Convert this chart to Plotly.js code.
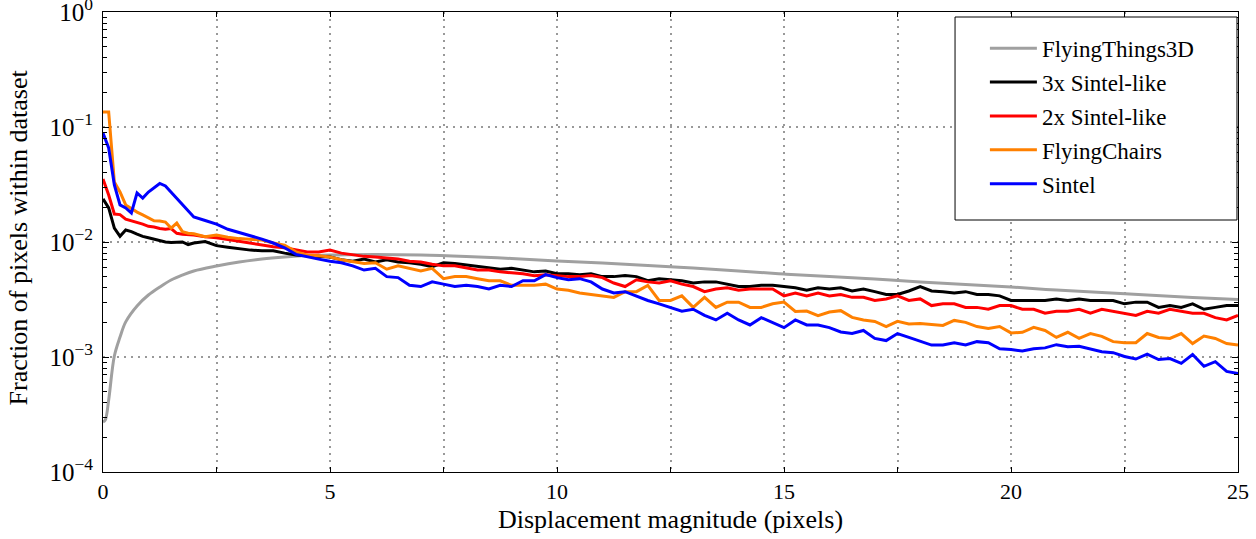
<!DOCTYPE html>
<html>
<head>
<meta charset="utf-8">
<script src="https://cdn.plot.ly/plotly-3.0.1.min.js"></script>
<style>html,body{margin:0;padding:0;background:#fff;}#chart{width:1256px;height:539px;}</style>
</head>
<body>
<div id="chart"></div>
<script>
// ---- data ----
const seriesNames = ['FlyingThings3D', '3x Sintel-like', '2x Sintel-like', 'FlyingChairs', 'Sintel'];

const xThings = [0,0.05,0.125,0.25,0.375,0.5,0.75,1,1.25,1.5,1.75,2,2.5,3,3.5,4,4.5,5,6,7,8,9,10,11,12,13,14,15,16,17,18,19,20,21,22,23,24,25];
const yThings = [0.000272,0.000283,0.000423,0.00102,0.00149,0.00202,0.00278,0.00346,0.00406,0.00467,0.00516,0.00560,0.00618,0.00670,0.00711,0.00741,0.00763,0.00770,0.00778,0.00770,0.00748,0.00719,0.00684,0.00657,0.00625,0.00594,0.00560,0.00527,0.00501,0.00477,0.00449,0.00427,0.00406,0.00382,0.00364,0.00346,0.00329,0.00316];

const xDisp = [0,0.125,0.25,0.375,0.5,0.625,0.75,0.875,1,1.125,1.25,1.375,1.5,1.625,1.75,1.875,2,
  2.25,2.5,2.75,3,3.25,3.5,3.75,4,4.25,4.5,4.75,5,5.25,5.5,5.75,6,6.25,6.5,6.75,7,7.25,7.5,7.75,8,
  8.25,8.5,8.75,9,9.25,9.5,9.75,10,10.25,10.5,10.75,11,11.25,11.5,11.75,12,12.25,12.5,12.75,13,
  13.25,13.5,13.75,14,14.25,14.5,14.75,15,15.25,15.5,15.75,16,16.25,16.5,16.75,17,17.25,17.5,17.75,18,
  18.25,18.5,18.75,19,19.25,19.5,19.75,20,20.25,20.5,20.75,21,21.25,21.5,21.75,22,22.25,22.5,22.75,23,
  23.25,23.5,23.75,24,24.25,24.5,24.75,25];

const ySintel3x = [0.0237,0.0198,0.0132,0.0112,0.0127,0.0123,0.0117,0.0112,0.0109,0.0106,0.0102,0.0100,0.0099,0.0100,0.0100,0.0095,0.0098,
  0.0101,0.0093,0.0090,0.0087,0.0085,0.0084,0.0084,0.0080,0.0077,0.0076,0.0075,0.0074,0.0070,0.0068,0.0071,0.0067,0.0070,0.0067,0.0066,0.0064,0.0061,0.0066,0.0065,0.0063,
  0.0061,0.0059,0.0058,0.0059,0.0057,0.0055,0.0056,0.0053,0.0053,0.0052,0.0053,0.0050,0.0050,0.0051,0.0050,0.0046,0.0048,0.0047,0.0046,0.0044,
  0.0045,0.0045,0.0043,0.0041,0.0041,0.0042,0.0042,0.0041,0.0040,0.0038,0.0040,0.0039,0.0040,0.00375,0.0039,0.0037,0.0035,0.0035,0.00375,0.0041,
  0.00375,0.0037,0.0036,0.0037,0.0035,0.0035,0.0034,0.0031,0.0031,0.0031,0.0031,0.0032,0.0031,0.0032,0.0031,0.0031,0.0031,0.0029,0.0030,0.0030,
  0.0027,0.0028,0.0027,0.0029,0.0026,0.0027,0.0028,0.0028];

const ySintel2x = [0.0353,0.0256,0.0175,0.0173,0.0158,0.0153,0.0149,0.0143,0.0137,0.0135,0.0131,0.0129,0.0131,0.0119,0.0117,0.0116,0.0115,
  0.0111,0.0109,0.0105,0.0101,0.0098,0.0094,0.0091,0.0089,0.0086,0.0082,0.0082,0.0085,0.0080,0.0077,0.0075,0.0074,0.0073,0.0071,0.0068,0.0067,0.0064,0.0062,0.0062,0.0059,
  0.0057,0.0057,0.0055,0.0054,0.0053,0.0051,0.0052,0.0051,0.0050,0.0050,0.0051,0.0049,0.0044,0.0041,0.0047,0.0045,0.0044,0.0046,0.0043,0.0041,
  0.0037,0.0039,0.0040,0.0038,0.0039,0.0039,0.0039,0.0034,0.0036,0.0034,0.0036,0.0034,0.0035,0.0033,0.0033,0.0031,0.0032,0.0034,0.0031,0.0032,
  0.0028,0.0029,0.0029,0.0027,0.0027,0.0026,0.0028,0.0028,0.0026,0.0026,0.0024,0.0025,0.0025,0.0026,0.0024,0.0026,0.0025,0.0024,0.0023,0.0025,
  0.0024,0.0026,0.0025,0.0024,0.0024,0.0022,0.0021,0.0023];

const yChairs = [0.135,0.135,0.0332,0.0272,0.0210,0.0194,0.0182,0.0172,0.0162,0.0153,0.0152,0.0149,0.0132,0.0146,0.0123,0.0119,0.0118,
  0.0111,0.0115,0.0110,0.0107,0.0106,0.0104,0.0098,0.0094,0.0082,0.0077,0.0076,0.0074,0.0070,0.0067,0.0065,0.0066,0.0058,0.0062,0.0059,0.0056,0.0059,0.0048,0.0050,0.0050,
  0.0048,0.0046,0.0046,0.0042,0.0042,0.0042,0.0043,0.0039,0.0038,0.0036,0.0035,0.0034,0.0033,0.0037,0.0037,0.0042,0.0031,0.0031,0.0034,0.0027,
  0.0033,0.0027,0.0030,0.0030,0.0027,0.0027,0.0029,0.0030,0.00249,0.00251,0.00229,0.00246,0.00253,0.00221,0.00210,0.00204,0.00184,0.00204,0.00194,0.00196,
  0.00192,0.00188,0.00208,0.00200,0.00184,0.00177,0.00184,0.00162,0.00164,0.00181,0.00170,0.00148,0.00164,0.00145,0.00160,0.00151,0.00136,0.00133,0.00133,0.00160,
  0.00148,0.00145,0.00160,0.00131,0.00152,0.00145,0.00131,0.00127];

const ySintel = [0.0887,0.0657,0.0313,0.0210,0.0198,0.0179,0.0267,0.0241,0.0272,0.0295,0.0323,0.0307,0.0272,0.0237,0.0210,0.0186,0.0165,
  0.0154,0.0143,0.0129,0.0121,0.0114,0.0106,0.0098,0.0089,0.0078,0.0074,0.0071,0.0068,0.0066,0.0062,0.0057,0.0059,0.0050,0.0049,0.0042,0.0041,0.0045,0.0043,0.0041,0.0042,
  0.0041,0.0039,0.0042,0.0041,0.0046,0.0046,0.0052,0.0049,0.0047,0.0048,0.0045,0.0039,0.0036,0.0037,0.0034,0.0031,0.0029,0.0027,0.0025,0.0026,
  0.0023,0.0021,0.0024,0.0021,0.0019,0.0022,0.0020,0.0018,0.0021,0.0019,0.0019,0.0018,0.00165,0.0016,0.0017,0.00145,0.00139,0.00160,0.00148,0.00136,
  0.00127,0.00127,0.00133,0.00127,0.00136,0.00133,0.00118,0.00116,0.00113,0.00118,0.00120,0.00128,0.00123,0.00124,0.00118,0.00111,0.00109,0.00101,0.00096,0.00106,
  0.00095,0.00097,0.00088,0.00105,0.00083,0.00091,0.00075,0.00072];

const seriesColors = ['rgb(160,160,160)', '#000000', '#ff0000', '#ff8000', '#0000ff'];

const xTickVals = [0,2.5,5,7.5,10,12.5,15,17.5,20,22.5,25];
const xTickText = ['0',' ','5',' ','10',' ','15',' ','20',' ','25'];
const yTickVals = [0.0001,0.001,0.01,0.1,1];
const yTickText = ['10<sup>\u22124</sup>','10<sup>\u22123</sup>','10<sup>\u22122</sup>','10<sup>\u22121</sup>','10<sup>0</sup>'];
const yMinorVals = [0.0002,0.0003,0.0004,0.0005,0.0006,0.0007,0.0008,0.0009,
  0.002,0.003,0.004,0.005,0.006,0.007,0.008,0.009,
  0.02,0.03,0.04,0.05,0.06,0.07,0.08,0.09,
  0.2,0.3,0.4,0.5,0.6,0.7,0.8,0.9];
const yTitle = 'Fraction of pixels within dataset';
const xTitle = 'Displacement magnitude (pixels)';

// ---- traces ----
const xs = [xThings, xDisp, xDisp, xDisp, xDisp];
const ys = [yThings, ySintel3x, ySintel2x, yChairs, ySintel];
const traces = seriesNames.map((name, i) => ({
  type: 'scatter', mode: 'lines', name: name,
  x: xs[i], y: ys[i],
  legendgroup: 'g' + i,
  line: {color: seriesColors[i], width: 3, shape: i === 0 ? 'spline' : 'linear'},
  hoverinfo: 'skip'
}));

const FONT = '"Liberation Serif", "Times New Roman", serif';

const layout = {
  width: 1256, height: 539,
  margin: {l: 103, r: 18, t: 12, b: 67},
  paper_bgcolor: '#ffffff', plot_bgcolor: '#ffffff',
  font: {family: FONT, size: 22, color: '#000'},
  showlegend: true,
  legend: {
    x: 0.777, y: 0.968, xanchor: 'left', yanchor: 'top',
    bgcolor: 'rgba(0,0,0,0)', borderwidth: 0,
    font: {family: FONT, size: 23, color: '#000'},
    traceorder: 'grouped', tracegroupgap: 1, itemwidth: 47
  },
  xaxis: {
    range: [0, 25], tickmode: 'array', tickvals: xTickVals, ticktext: xTickText,
    ticks: 'inside', ticklen: 5, tickcolor: '#000', tickwidth: 1,
    showline: true, linecolor: '#000', linewidth: 1, mirror: 'allticks',
    showgrid: true, gridcolor: '#999', gridwidth: 2, griddash: '2px,5px',
    zeroline: false,
    tickfont: {family: FONT, size: 22},
    title: {text: xTitle, font: {family: FONT, size: 26}, standoff: 6}
  },
  yaxis: {
    type: 'log', range: [-4, 0], tickmode: 'array', tickvals: yTickVals, ticktext: yTickText,
    ticks: 'inside', ticklen: 6, tickcolor: '#000', tickwidth: 1,
    showline: true, linecolor: '#000', linewidth: 1, mirror: 'allticks',
    showgrid: true, gridcolor: '#999', gridwidth: 2, griddash: '2px,5px',
    zeroline: false, ticklabeloverflow: 'allow', ticklabelstandoff: 4,
    tickfont: {family: FONT, size: 25},
    minor: {tickmode: 'array', tickvals: yMinorVals, ticks: 'inside', ticklen: 4, tickcolor: '#000', tickwidth: 1, showgrid: false}
  },
  annotations: [{
    text: yTitle, xref: 'paper', yref: 'paper', x: -0.0749, y: 0.51,
    xanchor: 'center', yanchor: 'middle', textangle: -90, showarrow: false,
    font: {family: FONT, size: 26, color: '#000'}
  }],
  shapes: [{
    type: 'rect', xref: 'paper', yref: 'paper', layer: 'above',
    x0: 0.7507, x1: 0.9991, y0: 0.5478, y1: 0.9891,
    line: {color: '#000', width: 1}, fillcolor: '#ffffff'
  }]
};

Plotly.newPlot('chart', traces, layout, {staticPlot: true, displayModeBar: false});
</script>
</body>
</html>
